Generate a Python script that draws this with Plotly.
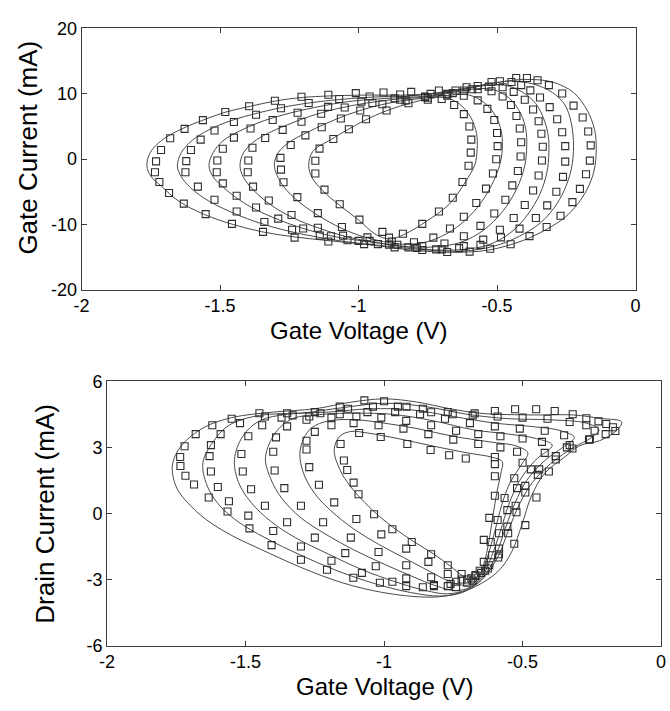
import plotly.graph_objects as go

# ---------------- tick definitions ----------------
X_TICKS = [-2, -1.5, -1, -0.5, 0]
X_TICK_TEXT = ["-2", "-1.5", "-1", "-0.5", "0"]
GATE_Y_TICKS = [-20, -10, 0, 10, 20]
GATE_Y_TEXT = ["-20", "-10", "0", "10", "20"]
DRAIN_Y_TICKS = [-6, -3, 0, 3, 6]
DRAIN_Y_TEXT = ["-6", "-3", "0", "3", "6"]

# ---------------- Gate current: model curves (V, mA), loops inner -> outer -------------
gate_model_1 = [(-1.18,-1.0),(-1.165,1.2),(-1.10,3.0),(-1.04,4.5),(-0.975,6.0),(-0.90,7.4),(-0.82,8.5),(-0.745,9.25),(-0.695,9.45),(-0.64,8.6),(-0.595,6.4),(-0.574,3.9),(-0.572,1.5),(-0.580,-0.8),(-0.614,-3.45),(-0.673,-6.9),(-0.755,-9.5),(-0.83,-11.4),(-0.885,-12.2),(-0.935,-11.6),(-1.0,-9.3),(-1.07,-7.0),(-1.13,-4.8),(-1.168,-2.8),(-1.18,-1.0)]
gate_model_2 = [(-1.304,-1.0),(-1.29,1.0),(-1.25,2.6),(-1.19,4.0),(-1.12,5.4),(-1.04,6.8),(-0.95,8.0),(-0.85,8.9),(-0.75,9.4),(-0.67,9.8),(-0.60,9.8),(-0.545,8.6),(-0.505,6.6),(-0.485,4.3),(-0.481,2.0),(-0.488,-0.5),(-0.52,-4.0),(-0.57,-7.3),(-0.63,-9.9),(-0.70,-11.8),(-0.77,-12.8),(-0.84,-13.0),(-0.91,-12.6),(-0.98,-11.9),(-1.06,-10.6),(-1.15,-8.5),(-1.23,-6.0),(-1.28,-3.6),(-1.304,-1.0)]
gate_model_3 = [(-1.428,-1.0),(-1.415,1.0),(-1.38,2.6),(-1.33,3.9),(-1.26,5.2),(-1.18,6.5),(-1.08,7.7),(-0.97,8.6),(-0.86,9.2),(-0.76,9.5),(-0.66,10.2),(-0.57,10.8),(-0.51,10.6),(-0.455,9.3),(-0.415,7.0),(-0.396,4.5),(-0.393,2.0),(-0.40,-1.0),(-0.43,-4.6),(-0.48,-8.0),(-0.55,-10.9),(-0.63,-12.7),(-0.72,-13.4),(-0.82,-13.4),(-0.93,-12.8),(-1.04,-11.9),(-1.14,-10.6),(-1.24,-8.9),(-1.32,-6.9),(-1.38,-4.7),(-1.415,-2.8),(-1.428,-1.0)]
gate_model_4 = [(-1.54,-1.0),(-1.525,1.0),(-1.49,2.8),(-1.43,4.3),(-1.36,5.6),(-1.27,6.8),(-1.16,7.9),(-1.04,8.8),(-0.9,9.3),(-0.77,9.6),(-0.64,10.5),(-0.54,11.3),(-0.47,11.3),(-0.41,10.3),(-0.36,8.5),(-0.33,6.0),(-0.315,3.5),(-0.313,1.0),(-0.32,-2.0),(-0.345,-5.3),(-0.39,-8.5),(-0.45,-11.2),(-0.53,-13.1),(-0.62,-13.8),(-0.72,-13.9),(-0.83,-13.4),(-0.95,-12.7),(-1.08,-11.9),(-1.2,-10.6),(-1.31,-8.9),(-1.41,-6.8),(-1.48,-4.6),(-1.525,-2.7),(-1.54,-1.0)]
gate_model_5 = [(-1.654,-1.0),(-1.64,1.0),(-1.60,2.9),(-1.54,4.5),(-1.46,5.9),(-1.36,7.1),(-1.24,8.2),(-1.1,9.0),(-0.95,9.5),(-0.8,9.7),(-0.65,10.6),(-0.53,11.5),(-0.45,11.95),(-0.37,11.5),(-0.30,10.2),(-0.255,8.3),(-0.232,5.5),(-0.224,2.0),(-0.232,-1.5),(-0.258,-4.8),(-0.295,-7.5),(-0.345,-9.8),(-0.42,-11.8),(-0.51,-13.3),(-0.62,-14.05),(-0.75,-13.9),(-0.9,-13.3),(-1.05,-12.6),(-1.2,-11.5),(-1.34,-10.0),(-1.46,-8.1),(-1.56,-5.9),(-1.62,-3.8),(-1.645,-2.3),(-1.654,-1.0)]
gate_model_6 = [(-1.764,-1.0),(-1.752,1.0),(-1.71,2.9),(-1.64,4.6),(-1.56,6.0),(-1.48,7.2),(-1.39,8.1),(-1.30,8.9),(-1.2,9.45),(-1.0,9.8),(-0.8,9.85),(-0.65,10.5),(-0.52,11.6),(-0.40,12.2),(-0.30,11.8),(-0.224,10.2),(-0.175,7.5),(-0.148,4.5),(-0.142,1.5),(-0.15,-1.8),(-0.175,-4.6),(-0.21,-6.9),(-0.255,-8.9),(-0.32,-10.7),(-0.41,-12.5),(-0.53,-13.9),(-0.66,-14.25),(-0.8,-13.95),(-0.96,-13.1),(-1.1,-12.5),(-1.23,-11.9),(-1.35,-11.1),(-1.46,-9.9),(-1.56,-8.4),(-1.65,-6.4),(-1.71,-4.2),(-1.75,-2.6),(-1.764,-1.0)]

# ---------------- Gate current: measured points ----------------
gate_meas_1 = [(-1.156,-2.2),(-1.156,-0.25),(-1.141,1.62),(-1.091,3.1),(-1.035,4.57),(-0.973,6.1),(-0.899,7.46),(-0.82,8.55),(-0.75,9.1),(-0.70,9.2),(-0.655,8.3),(-0.62,6.9),(-0.60,5.0),(-0.593,3.0),(-0.595,1.0),(-0.603,-1.0),(-0.625,-3.5),(-0.66,-5.9),(-0.71,-8.0),(-0.77,-9.9),(-0.84,-11.4),(-0.89,-12.0),(-0.914,-11.12),(-0.997,-9.25),(-1.068,-6.9),(-1.123,-4.66)]
gate_meas_2 = [(-1.28,-1.6),(-1.282,0.2),(-1.245,2.16),(-1.192,3.64),(-1.133,4.88),(-1.064,6.22),(-0.994,7.46),(-0.914,8.4),(-0.83,9.0),(-0.75,9.4),(-0.68,9.7),(-0.62,9.7),(-0.57,9.0),(-0.535,7.7),(-0.51,6.0),(-0.50,4.0),(-0.498,2.0),(-0.503,0.0),(-0.515,-2.2),(-0.54,-4.5),(-0.575,-6.7),(-0.62,-8.8),(-0.67,-10.6),(-0.73,-12.0),(-0.80,-12.7),(-0.88,-12.6),(-0.968,-11.97),(-1.06,-10.38),(-1.147,-8.25),(-1.221,-5.8),(-1.271,-3.54)]
gate_meas_3 = [(-1.40,-2.0),(-1.398,-0.2),(-1.383,1.76),(-1.337,3.24),(-1.274,4.49),(-1.206,5.72),(-1.135,6.96),(-1.05,7.9),(-0.95,8.6),(-0.85,9.1),(-0.76,9.5),(-0.68,10.0),(-0.62,10.5),(-0.57,10.7),(-0.52,10.4),(-0.48,9.6),(-0.45,8.3),(-0.43,6.6),(-0.418,4.7),(-0.413,2.6),(-0.415,0.4),(-0.425,-1.8),(-0.445,-4.0),(-0.47,-6.2),(-0.51,-8.3),(-0.56,-10.2),(-0.62,-11.8),(-0.69,-12.9),(-0.77,-13.3),(-0.86,-13.1),(-0.96,-12.5),(-1.056,-11.7),(-1.147,-10.48),(-1.242,-8.55),(-1.324,-6.32),(-1.381,-4.2)]
gate_meas_4 = [(-1.512,-2.0),(-1.51,-0.2),(-1.49,1.6),(-1.45,3.3),(-1.39,4.7),(-1.31,6.0),(-1.22,7.1),(-1.11,8.0),(-0.99,8.8),(-0.87,9.3),(-0.76,9.6),(-0.66,10.1),(-0.59,10.7),(-0.53,11.1),(-0.48,11.0),(-0.44,10.3),(-0.40,9.1),(-0.37,7.6),(-0.35,5.8),(-0.34,3.9),(-0.335,1.9),(-0.338,-0.2),(-0.35,-2.5),(-0.37,-4.8),(-0.40,-7.0),(-0.44,-9.0),(-0.49,-10.8),(-0.55,-12.3),(-0.62,-13.3),(-0.70,-13.8),(-0.79,-13.6),(-0.89,-13.1),(-1.0,-12.5),(-1.1,-11.8),(-1.2,-10.6),(-1.29,-9.1),(-1.37,-7.4),(-1.44,-5.6),(-1.49,-3.7)]
gate_meas_5 = [(-1.625,-2.0),(-1.622,-0.3),(-1.605,1.4),(-1.57,3.0),(-1.52,4.4),(-1.45,5.7),(-1.37,6.8),(-1.28,7.8),(-1.18,8.6),(-1.07,9.2),(-0.96,9.6),(-0.85,9.9),(-0.74,10.0),(-0.65,10.5),(-0.57,11.2),(-0.49,11.92),(-0.448,11.82),(-0.413,11.33),(-0.38,10.53),(-0.345,9.44),(-0.31,7.96),(-0.283,6.12),(-0.265,4.13),(-0.254,2.0),(-0.254,-0.37),(-0.262,-2.7),(-0.286,-4.98),(-0.319,-7.06),(-0.36,-9.0),(-0.419,-10.63),(-0.486,-11.97),(-0.56,-13.11),(-0.637,-13.61),(-0.72,-13.8),(-0.82,-13.5),(-0.93,-13.0),(-1.04,-12.4),(-1.14,-11.7),(-1.24,-10.8),(-1.34,-9.6),(-1.44,-8.0),(-1.52,-6.2),(-1.58,-4.2)]
gate_meas_6 = [(-1.735,-2.0),(-1.731,-0.33),(-1.713,1.41),(-1.68,3.2),(-1.628,4.64),(-1.562,5.98),(-1.481,7.21),(-1.395,8.1),(-1.302,8.95),(-1.206,9.55),(-1.109,9.85),(-1.01,10.1),(-0.91,10.2),(-0.81,10.3),(-0.71,10.5),(-0.61,11.0),(-0.52,11.8),(-0.431,12.42),(-0.392,12.42),(-0.354,12.07),(-0.313,11.33),(-0.265,10.04),(-0.224,8.2),(-0.191,6.37),(-0.171,4.24),(-0.162,2.11),(-0.165,-0.22),(-0.179,-2.3),(-0.201,-4.54),(-0.228,-6.57),(-0.271,-8.65),(-0.321,-10.38),(-0.383,-11.77),(-0.451,-13.01),(-0.525,-13.71),(-0.599,-14.15),(-0.68,-14.2),(-0.77,-13.9),(-0.87,-13.5),(-0.98,-13.0),(-1.109,-12.6),(-1.231,-12.0),(-1.345,-11.12),(-1.457,-9.9),(-1.552,-8.4),(-1.631,-6.8),(-1.684,-5.17),(-1.719,-3.5)]

# ---------------- Drain current: model curves ----------------
drain_model_1 = [(-1.18,2.9),(-1.16,2.0),(-1.12,1.2),(-1.07,0.5),(-1.02,-0.1),(-0.96,-0.7),(-0.89,-1.3),(-0.82,-1.85),(-0.76,-2.4),(-0.715,-2.85),(-0.685,-3.02),(-0.66,-2.85),(-0.64,-2.3),(-0.622,-1.3),(-0.607,-0.1),(-0.592,1.0),(-0.577,1.9),(-0.573,2.35),(-0.61,2.55),(-0.70,2.75),(-0.82,3.05),(-0.95,3.4),(-1.06,3.65),(-1.12,3.72),(-1.16,3.5),(-1.18,2.9)]
drain_model_2 = [(-1.304,2.7),(-1.29,1.8),(-1.25,0.9),(-1.19,0.1),(-1.11,-0.7),(-1.02,-1.4),(-0.93,-2.0),(-0.84,-2.6),(-0.77,-3.05),(-0.72,-3.25),(-0.68,-3.2),(-0.65,-2.75),(-0.625,-1.9),(-0.60,-0.8),(-0.575,0.4),(-0.545,1.4),(-0.505,2.2),(-0.481,2.75),(-0.52,3.05),(-0.62,3.25),(-0.75,3.5),(-0.88,3.85),(-1.0,4.1),(-1.1,4.25),(-1.2,4.2),(-1.26,3.9),(-1.29,3.4),(-1.304,2.7)]
drain_model_3 = [(-1.428,2.55),(-1.41,1.6),(-1.37,0.7),(-1.30,-0.2),(-1.21,-0.95),(-1.11,-1.65),(-1.0,-2.3),(-0.9,-2.85),(-0.81,-3.3),(-0.74,-3.5),(-0.69,-3.35),(-0.645,-2.85),(-0.612,-1.95),(-0.58,-0.8),(-0.55,0.4),(-0.51,1.5),(-0.455,2.4),(-0.393,3.1),(-0.45,3.4),(-0.55,3.6),(-0.68,3.8),(-0.82,4.2),(-0.97,4.5),(-1.1,4.55),(-1.22,4.5),(-1.33,4.3),(-1.39,3.7),(-1.428,2.55)]
drain_model_4 = [(-1.54,2.45),(-1.525,1.4),(-1.48,0.5),(-1.41,-0.35),(-1.32,-1.1),(-1.2,-1.85),(-1.08,-2.55),(-0.96,-3.1),(-0.85,-3.5),(-0.77,-3.65),(-0.70,-3.45),(-0.645,-2.95),(-0.598,-1.95),(-0.563,-0.7),(-0.528,0.45),(-0.485,1.5),(-0.42,2.4),(-0.355,3.0),(-0.313,3.45),(-0.36,3.75),(-0.47,3.95),(-0.6,4.1),(-0.75,4.4),(-0.9,4.7),(-1.05,4.75),(-1.2,4.6),(-1.35,4.5),(-1.45,4.2),(-1.51,3.5),(-1.54,2.45)]
drain_model_5 = [(-1.654,2.3),(-1.64,1.3),(-1.6,0.45),(-1.53,-0.35),(-1.43,-1.1),(-1.3,-1.9),(-1.17,-2.6),(-1.03,-3.2),(-0.9,-3.6),(-0.8,-3.75),(-0.72,-3.6),(-0.65,-3.05),(-0.59,-2.0),(-0.552,-0.8),(-0.512,0.4),(-0.465,1.4),(-0.395,2.3),(-0.315,3.0),(-0.25,3.45),(-0.224,3.8),(-0.27,4.1),(-0.4,4.25),(-0.55,4.3),(-0.7,4.5),(-0.85,4.85),(-1.0,5.0),(-1.15,4.8),(-1.3,4.55),(-1.45,4.45),(-1.56,4.0),(-1.62,3.2),(-1.654,2.3)]
drain_model_6 = [(-1.764,2.2),(-1.75,1.2),(-1.71,0.5),(-1.64,-0.3),(-1.55,-1.0),(-1.45,-1.6),(-1.3,-2.45),(-1.15,-3.15),(-1.0,-3.6),(-0.85,-3.8),(-0.765,-3.72),(-0.67,-3.32),(-0.585,-2.59),(-0.538,-1.71),(-0.503,-0.53),(-0.468,0.79),(-0.42,1.82),(-0.348,2.56),(-0.293,3.08),(-0.222,3.3),(-0.163,3.74),(-0.142,4.15),(-0.222,4.32),(-0.316,4.47),(-0.458,4.47),(-0.647,4.54),(-0.765,4.76),(-0.883,5.06),(-1.0,5.2),(-1.12,5.05),(-1.25,4.75),(-1.4,4.6),(-1.55,4.35),(-1.65,3.9),(-1.73,3.1),(-1.764,2.2)]

# ---------------- Drain current: measured points ----------------
drain_meas_1 = [(-1.157,3.15),(-1.145,2.4),(-1.133,1.97),(-1.11,1.4),(-1.092,0.87),(-1.036,-0.04),(-0.97,-0.72),(-0.90,-1.3),(-0.83,-1.85),(-0.77,-2.35),(-0.72,-2.75),(-0.685,-2.95),(-0.655,-2.6),(-0.64,-1.2),(-0.62,-0.2),(-0.60,0.8),(-0.60,1.69),(-0.60,2.24),(-0.60,2.56),(-0.705,2.49),(-0.765,2.64),(-0.832,2.88),(-0.916,3.15),(-1.012,3.47),(-1.09,3.65)]
drain_meas_2 = [(-1.28,2.9),(-1.27,2.1),(-1.235,1.3),(-1.18,0.5),(-1.10,-0.25),(-1.01,-0.95),(-0.92,-1.6),(-0.84,-2.2),(-0.77,-2.75),(-0.72,-3.0),(-0.67,-2.8),(-0.64,-2.2),(-0.615,-1.3),(-0.59,-0.3),(-0.565,0.7),(-0.53,1.6),(-0.50,2.3),(-0.52,2.8),(-0.58,3.0),(-0.66,3.15),(-0.75,3.35),(-0.84,3.6),(-0.93,3.85),(-1.02,4.0),(-1.11,4.1),(-1.19,4.0),(-1.25,3.7),(-1.28,3.3)]
drain_meas_3 = [(-1.40,2.8),(-1.395,1.95),(-1.36,1.15),(-1.30,0.35),(-1.22,-0.4),(-1.12,-1.1),(-1.02,-1.75),(-0.92,-2.35),(-0.83,-2.9),(-0.76,-3.2),(-0.70,-3.15),(-0.65,-2.7),(-0.61,-1.9),(-0.585,-0.9),(-0.555,0.15),(-0.52,1.15),(-0.47,2.0),(-0.42,2.75),(-0.43,3.25),(-0.50,3.4),(-0.58,3.5),(-0.66,3.6),(-0.74,3.75),(-0.83,4.0),(-0.92,4.2),(-1.01,4.35),(-1.10,4.4),(-1.19,4.35),(-1.28,4.25),(-1.35,3.95),(-1.39,3.45)]
drain_meas_4 = [(-1.515,2.7),(-1.51,1.9),(-1.48,1.1),(-1.43,0.35),(-1.35,-0.4),(-1.25,-1.1),(-1.14,-1.8),(-1.03,-2.4),(-0.92,-2.95),(-0.82,-3.3),(-0.74,-3.35),(-0.68,-3.05),(-0.625,-2.5),(-0.585,-1.6),(-0.555,-0.6),(-0.525,0.35),(-0.49,1.25),(-0.44,2.0),(-0.38,2.6),(-0.33,3.1),(-0.35,3.55),(-0.42,3.75),(-0.51,3.85),(-0.60,3.95),(-0.69,4.1),(-0.78,4.3),(-0.87,4.5),(-0.96,4.6),(-1.06,4.6),(-1.16,4.5),(-1.27,4.4),(-1.37,4.35),(-1.44,4.0),(-1.49,3.5)]
drain_meas_5 = [(-1.63,2.6),(-1.625,1.9),(-1.60,1.2),(-1.56,0.55),(-1.49,-0.1),(-1.40,-0.8),(-1.30,-1.5),(-1.19,-2.15),(-1.08,-2.7),(-0.97,-3.1),(-0.86,-3.35),(-0.77,-3.3),(-0.70,-3.0),(-0.635,-2.6),(-0.585,-1.85),(-0.552,-0.9),(-0.522,0.05),(-0.49,0.95),(-0.445,1.75),(-0.38,2.45),(-0.32,2.95),(-0.26,3.35),(-0.24,3.75),(-0.27,4.0),(-0.33,4.15),(-0.41,4.3),(-0.50,4.35),(-0.59,4.4),(-0.68,4.45),(-0.77,4.6),(-0.86,4.75),(-0.95,4.85),(-1.04,4.85),(-1.13,4.75),(-1.23,4.55),(-1.33,4.45),(-1.43,4.4),(-1.52,4.1),(-1.59,3.6),(-1.625,3.1)]
drain_meas_6 = [(-1.736,2.56),(-1.735,2.15),(-1.717,1.71),(-1.686,1.31),(-1.633,0.72),(-1.565,0.09),(-1.486,-0.68),(-1.406,-1.44),(-1.30,-2.1),(-1.206,-2.56),(-1.111,-2.92),(-1.015,-3.15),(-0.92,-3.3),(-0.82,-3.25),(-0.74,-3.1),(-0.67,-2.85),(-0.62,-2.35),(-0.588,-2.0),(-0.53,-1.38),(-0.49,-0.53),(-0.45,0.72),(-0.405,1.9),(-0.34,3.0),(-0.257,3.37),(-0.2,3.6),(-0.165,3.74),(-0.174,3.91),(-0.198,4.06),(-0.226,4.18),(-0.27,4.32),(-0.319,4.5),(-0.384,4.65),(-0.451,4.73),(-0.527,4.73),(-0.600,4.65),(-0.673,4.54),(-0.752,4.5),(-0.83,4.59),(-0.919,4.84),(-1.0,5.09),(-1.071,5.13),(-1.16,4.85),(-1.25,4.6),(-1.35,4.55),(-1.45,4.55),(-1.55,4.3),(-1.62,4.0),(-1.68,3.6),(-1.72,3.05)]

GATE_MODEL = [gate_model_1, gate_model_2, gate_model_3, gate_model_4, gate_model_5, gate_model_6]
GATE_MEAS = [gate_meas_1, gate_meas_2, gate_meas_3, gate_meas_4, gate_meas_5, gate_meas_6]
DRAIN_MODEL = [drain_model_1, drain_model_2, drain_model_3, drain_model_4, drain_model_5, drain_model_6]
DRAIN_MEAS = [drain_meas_1, drain_meas_2, drain_meas_3, drain_meas_4, drain_meas_5, drain_meas_6]

LINE_COLOR = "#4a4a4a"
MARK_COLOR = "#2e2e2e"
FONT = "Liberation Sans, Arial, sans-serif"

fig = go.Figure()


def add_loops(models, meas, xa, ya):
    for pts in models:
        fig.add_trace(go.Scatter(
            x=[p[0] for p in pts], y=[p[1] for p in pts], xaxis=xa, yaxis=ya,
            mode="lines", line=dict(color=LINE_COLOR, width=1, shape="spline", smoothing=1.0),
            showlegend=False, hoverinfo="skip"))
    for pts in meas:
        fig.add_trace(go.Scatter(
            x=[p[0] for p in pts], y=[p[1] for p in pts], xaxis=xa, yaxis=ya,
            mode="markers",
            marker=dict(symbol="square-open", size=7, color=MARK_COLOR, line=dict(width=1.1, color=MARK_COLOR)),
            showlegend=False, hoverinfo="skip"))


add_loops(GATE_MODEL, GATE_MEAS, "x", "y")
add_loops(DRAIN_MODEL, DRAIN_MEAS, "x2", "y2")

W, H = 670, 711
top_box = (75, 640, 19, 288)
bot_box = (101, 666, 382, 654)


def xdom(b):
    return [b[0] / W, b[1] / W]


def ydom(b):
    return [(H - b[3]) / H, (H - b[2]) / H]


axis_common = dict(showgrid=False, zeroline=False, showline=True, linecolor="#3c3c3c", linewidth=1,
                   mirror="allticks", ticks="inside", ticklen=5, tickcolor="#3c3c3c",
                   tickfont=dict(family=FONT, size=18, color="black"))

fig.update_layout(
    width=W, height=H, margin=dict(l=0, r=0, t=0, b=0),
    paper_bgcolor="white", plot_bgcolor="white",
    xaxis=dict(domain=xdom(top_box), range=[-2, 0], anchor="y", tickvals=X_TICKS, ticktext=X_TICK_TEXT, **axis_common),
    yaxis=dict(domain=ydom(top_box), range=[-20, 20], anchor="x", tickvals=GATE_Y_TICKS, ticktext=GATE_Y_TEXT, **axis_common),
    xaxis2=dict(domain=xdom(bot_box), range=[-2, 0], anchor="y2", tickvals=X_TICKS, ticktext=X_TICK_TEXT, **axis_common),
    yaxis2=dict(domain=ydom(bot_box), range=[-6, 6], anchor="x2", tickvals=DRAIN_Y_TICKS, ticktext=DRAIN_Y_TEXT, **axis_common),
    annotations=[
        dict(text="Gate Voltage (V)", xref="paper", yref="paper", x=357.5 / W, y=(H - 330) / H,
             showarrow=False, font=dict(family=FONT, size=24, color="black"), xanchor="center", yanchor="middle"),
        dict(text="Gate Current (mA)", xref="paper", yref="paper", x=20 / W, y=(H - 142) / H, textangle=-90,
             showarrow=False, font=dict(family=FONT, size=26, color="black"), xanchor="center", yanchor="middle"),
        dict(text="Gate Voltage (V)", xref="paper", yref="paper", x=383.5 / W, y=(H - 696) / H,
             showarrow=False, font=dict(family=FONT, size=24, color="black"), xanchor="center", yanchor="middle"),
        dict(text="Drain Current (mA)", xref="paper", yref="paper", x=38 / W, y=(H - 518) / H, textangle=-90,
             showarrow=False, font=dict(family=FONT, size=26, color="black"), xanchor="center", yanchor="middle"),
    ],
)

fig.write_html("out.html")
